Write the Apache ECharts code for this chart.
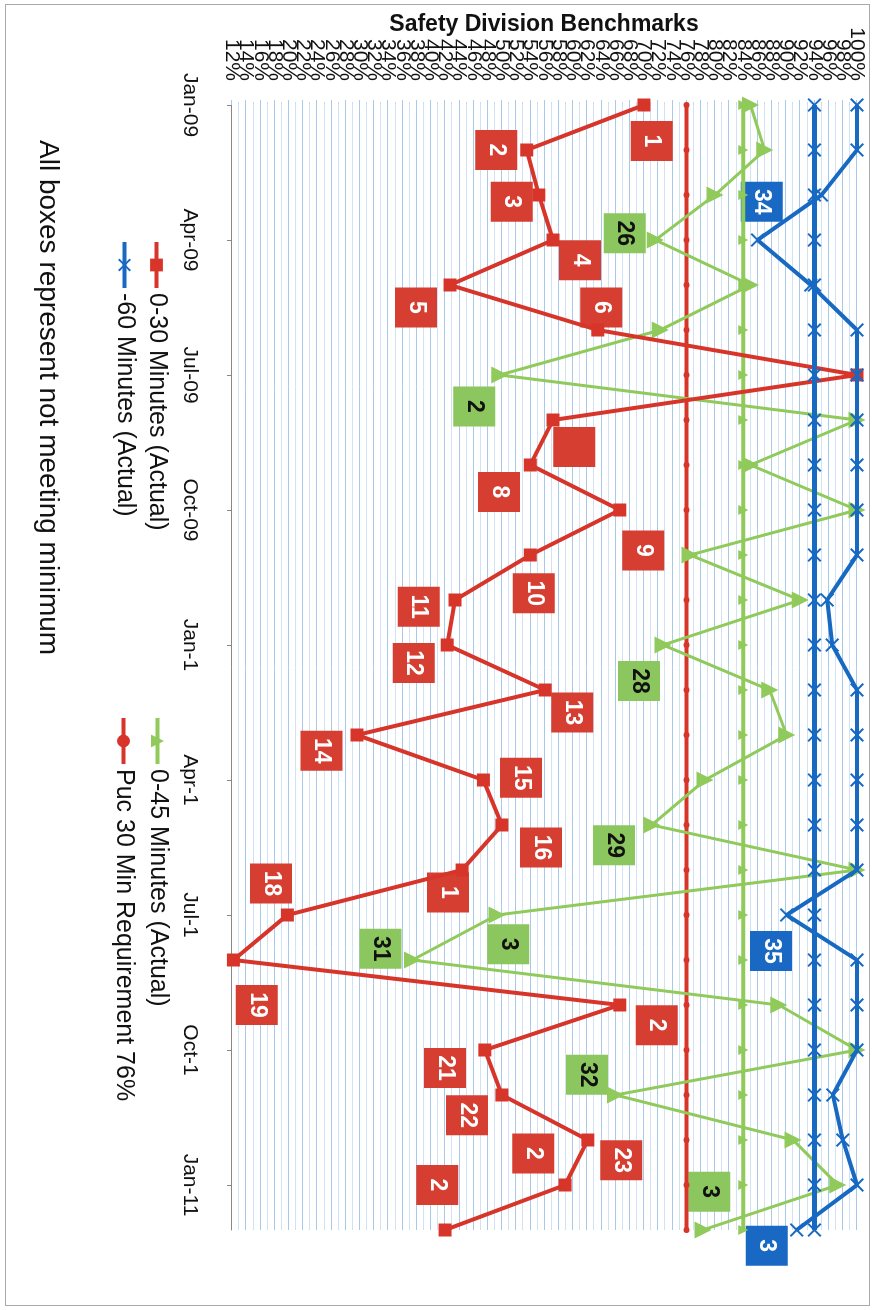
<!DOCTYPE html>
<html>
<head>
<meta charset="utf-8">
<title>Safety Division Benchmarks</title>
<script src="https://cdn.jsdelivr.net/npm/echarts@6/dist/echarts.min.js"></script>
<style>
  html, body { margin: 0; padding: 0; width: 875px; height: 1310px; overflow: hidden; background: #fff; }
  #frame { position: absolute; left: 5px; top: 4px; width: 863px; height: 1300px; border: 1px solid #aaa; }
  /* the scanned page is turned a quarter clockwise, so the chart is drawn landscape and rotated */
  #chart { position: absolute; left: 0; top: 0; width: 1310px; height: 875px;
           transform-origin: 0 0; transform: translateX(875px) rotate(90deg); }
</style>
</head>
<body>
<div id="frame"></div>
<div id="chart"></div>
<script>
var months = ['Jan-09', 'Feb-09', 'Mar-09', 'Apr-09', 'May-09', 'Jun-09', 'Jul-09', 'Aug-09', 'Sep-09', 'Oct-09', 'Nov-09', 'Dec-09',
  'Jan-10', 'Feb-10', 'Mar-10', 'Apr-10', 'May-10', 'Jun-10', 'Jul-10', 'Aug-10', 'Sep-10', 'Oct-10', 'Nov-10', 'Dec-10',
  'Jan-11', 'Feb-11']
var tickLabels = ['Jan-09', 'Apr-09', 'Jul-09', 'Oct-09', 'Jan-1', 'Apr-1', 'Jul-1', 'Oct-1', 'Jan-11'] // every 3rd month
var pctMin = 12
var pctMax = 100

var red30 = [70, 53.5, 55.2, 57.2, 42.7, 63.5, 100, 57.2, 54, 66.6, 54, 43.4, 42.3, 56.1, 29.6, 47.4, 50, 44.4, 19.8, 12.2, 66.6, 47.6, 50, 62.1, 58.9, 42]
var green45 = [85, 87, 80, 71.6, 85, 72.3, 49.7, 100, 85, 100, 76.5, 92, 72.7, 87.7, 90.1, 78.6, 71.1, 100, 49.3, 37.4, 89, 100, 66, 91, 97.3, 78.3]
var blue60 = [100, 100, 95, 86, 93.5, 100, 100, 100, 100, 100, 100, 95.8, 96.5, 100, 100, 100, 100, 100, 90.1, 100, 100, 100, 96.6, 98, 100, 91.5]
var puc30 = [76, 76, 76, 76, 76, 76, 76, 76, 76, 76, 76, 76, 76, 76, 76, 76, 76, 76, 76, 76, 76, 76, 76, 76, 76, 76]
var green45Req = [84, 84, 84, 84, 84, 84, 84, 84, 84, 84, 84, 84, 84, 84, 84, 84, 84, 84, 84, 84, 84, 84, 84, 84, 84, 84]
var blue60Req = [94, 94, 94, 94, 94, 94, 94, 94, 94, 94, 94, 94, 94, 94, 94, 94, 94, 94, 94, 94, 94, 94, 94, 94, 94, 94]

// note boxes: [month position, percent, text]
var redBoxes = [[0.8, 71.1, '1'], [1.0, 49.2, '2'], [2.15, 51.4, '3'], [3.45, 61, '4'], [4.5, 37.9, '5'], [4.5, 64, '6'],
  [7.6, 60.2, ''], [8.6, 49.6, '8'], [9.9, 69.9, '9'], [10.85, 54.5, '10'], [11.15, 38.3, '11'], [12.4, 37.6, '12'],
  [13.5, 59.9, '13'], [14.35, 24.6, '14'], [14.95, 52.7, '15'], [16.5, 55.5, '16'], [17.5, 42.4, '1'], [17.3, 17.5, '18'],
  [20.0, 15.5, '19'], [20.45, 71.8, '2'], [21.4, 42, '21'], [22.45, 45.1, '22'], [23.3, 54.4, '2'], [23.45, 66.8, '23'],
  [24.0, 40.9, '2']]
var greenBoxes = [[2.85, 67.3, '26'], [6.7, 46.1, '2'], [12.8, 69.3, '28'], [16.45, 65.8, '29'], [18.65, 50.9, '3'],
  [18.75, 32.9, '31'], [21.55, 62, '32'], [24.15, 79.2, '3']]
var blueBoxes = [[2.15, 86.6, '34'], [18.8, 87.9, '35'], [25.35, 87.3, '3']]

var RED = '#d8352a'
var GREEN = '#8fca5a'
var BLUE = '#1769c2'
var FONT = '"Liberation Sans", Arial, sans-serif'
var CROSS = 'path://M1,0 L5,4 L9,0 L10,1 L6,5 L10,9 L9,10 L5,6 L1,10 L0,9 L4,5 L0,1 Z'

function pts (vals) {
  return vals.map(function (v, i) { return [i, v] })
}

function lineSeries (name, vals, color, width, symbol, size, z) {
  return {
    name: name,
    type: 'line',
    data: pts(vals),
    symbol: symbol,
    symbolSize: size,
    showAllSymbol: true,
    z: z,
    lineStyle: { color: color, width: width },
    itemStyle: { color: color }
  }
}

function boxSeries (name, boxes, color, textColor) {
  return {
    name: name,
    type: 'scatter',
    data: boxes,
    symbol: 'rect',
    symbolSize: [40, 42],
    clip: false,
    silent: true,
    z: 1,
    itemStyle: { color: color, opacity: 1 },
    label: {
      show: true,
      position: 'inside',
      formatter: function (p) { return p.data[2] },
      color: textColor,
      fontSize: 23,
      fontWeight: 'bold',
      fontFamily: FONT
    }
  }
}

function oneLegend (name, left, top) {
  return {
    data: [name],
    left: left,
    top: top,
    padding: 0,
    itemWidth: 46,
    itemHeight: 16,
    selectedMode: false,
    lineStyle: { width: 4 },
    textStyle: { fontSize: 25, color: '#111', fontFamily: FONT }
  }
}

var pctLabel = { margin: 24, fontSize: 21, color: '#111', fontFamily: FONT, hideOverlap: false }

var chart = echarts.init(document.getElementById('chart'))
chart.setOption({
  animation: false,
  backgroundColor: 'transparent',
  grid: { left: 105, right: 80, top: 18, bottom: 232, containLabel: false, outerBoundsMode: 'none' },
  legend: [
    oneLegend('0-30 Minutes (Actual)', 240, 706),
    oneLegend('-60 Minutes (Actual)', 240, 738),
    oneLegend('0-45 Minutes (Actual)', 716, 705),
    oneLegend('Puc 30 Min Requirement 76%', 716, 739)
  ],
  xAxis: {
    type: 'value',
    min: 0,
    max: months.length - 1,
    interval: 3,
    axisLine: { show: true, lineStyle: { color: '#888', width: 1 } },
    axisTick: { show: true, length: 5, lineStyle: { color: '#888' } },
    splitLine: { show: false },
    axisLabel: {
      margin: 32,
      fontSize: 21,
      color: '#111',
      fontFamily: FONT,
      showMaxLabel: false,
      formatter: function (v) { return v % 3 === 0 ? tickLabels[v / 3] : '' }
    }
  },
  yAxis: [
    {
      type: 'value',
      min: pctMin,
      max: pctMax,
      interval: 2,
      axisLine: { show: false },
      axisTick: { show: true, length: 5, lineStyle: { color: '#a9c9ea' } },
      minorTick: { show: true, splitNumber: 2, length: 3, lineStyle: { color: '#c6dcf2' } },
      splitLine: { show: true, lineStyle: { color: '#a9c9ea', width: 1 } },
      minorSplitLine: { show: true, lineStyle: { color: '#d0e2f4', width: 1 } },
      axisLabel: Object.assign({ showMinLabel: false, showMaxLabel: false, formatter: '{value}%' }, pctLabel)
    },
    {
      // second copy of the same scale, only for the 12% and 100% end labels
      type: 'value',
      position: 'left',
      min: pctMin,
      max: pctMax,
      interval: 2,
      axisLine: { show: false },
      axisTick: { show: false },
      splitLine: { show: false },
      axisLabel: Object.assign({
        showMinLabel: true,
        showMaxLabel: true,
        formatter: function (v) { return (v === pctMin || v === pctMax) ? v + '%' : '' }
      }, pctLabel)
    }
  ],
  graphic: [
    {
      type: 'text',
      x: 25,
      y: 331,
      rotation: Math.PI / 2,
      style: {
        text: 'Safety Division Benchmarks',
        fill: '#111',
        font: 'bold 23px ' + FONT,
        align: 'center',
        verticalAlign: 'middle',
        textAlign: 'center',
        textVerticalAlign: 'middle'
      }
    },
    {
      type: 'text',
      x: 140,
      y: 827,
      style: {
        text: 'All boxes represent not meeting minimum',
        fill: '#111',
        font: '28px ' + FONT,
        align: 'left',
        verticalAlign: 'middle',
        textAlign: 'left',
        textVerticalAlign: 'middle'
      }
    }
  ],
  series: [
    boxSeries('red boxes', redBoxes, '#d63e31', '#fff'),
    boxSeries('green boxes', greenBoxes, '#8cc65e', '#111'),
    boxSeries('blue boxes', blueBoxes, '#1868c4', '#fff'),
    lineSeries('Puc 30 Min Requirement 76%', puc30, RED, 4, 'circle', 6, 2),
    lineSeries('0-45 Requirement', green45Req, GREEN, 4, 'triangle', 10, 2),
    lineSeries('0-45 Minutes (Actual)', green45, GREEN, 3, 'triangle', 17, 3),
    lineSeries('0-30 Minutes (Actual)', red30, RED, 4, 'rect', 13, 4),
    lineSeries('-60 Requirement', blue60Req, BLUE, 5, CROSS, 14, 5),
    lineSeries('-60 Minutes (Actual)', blue60, BLUE, 4, CROSS, 14, 6)
  ]
})
</script>
</body>
</html>
